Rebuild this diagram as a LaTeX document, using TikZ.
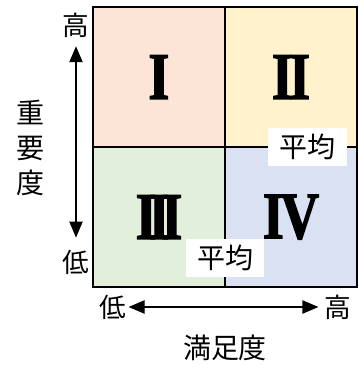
\documentclass[tikz,border=0pt]{standalone}
\usepackage{fontspec}
\setmainfont{Noto Sans CJK JP}
\font\numfontraw="Liberation Serif Bold:extend=0.8;embolden=2" at 50pt
\usepackage{tikz}
\usetikzlibrary{positioning, arrows.meta}
\definecolor{qpink}{HTML}{FCE4D6}
\definecolor{qyellow}{HTML}{FFF2CC}
\definecolor{qgreen}{HTML}{E2EFDA}
\definecolor{qblue}{HTML}{D9E1F2}
\newcommand{\numeral}[1]{\raisebox{-2.25pt}{\numfontraw #1}}
\newcommand{\romanI}{\numeral{I}}
\newcommand{\romanII}{\numeral{I\kern-.05em I}}
\newcommand{\romanIII}{\numeral{I\kern-.12em I\kern-.12em I}}
\newcommand{\romanIV}{\numeral{I\kern-.05em V}}

\begin{document}
\begin{tikzpicture}[x=0.75pt, y=-0.75pt,
    quad/.style={draw, line width=1.1pt, outer sep=0pt, inner sep=0pt,
      minimum width=99pt, minimum height=105pt},
    avg/.style={fill=white, inner sep=0pt, minimum width=59pt,
      minimum height=28.5pt, font=\fontsize{21pt}{24pt}\selectfont},
    axlabel/.style={inner sep=1.5pt, font=\fontsize{20pt}{22pt}\selectfont},
    axtitle/.style={inner sep=0pt, align=center,
      font=\fontsize{21pt}{26.25pt}\selectfont},
    axarrow/.style={line width=0.9pt,
      {Triangle[length=12pt, width=10pt]}-{Triangle[length=12pt, width=10pt]}}]
  \useasboundingbox (0,0) rectangle (358,365);

  % quadrants
  \node[quad, fill=qpink] (q1) at (159,77) {\romanI};
  \node[quad, fill=qyellow, right=0pt of q1] (q2) {\romanII};
  \node[quad, fill=qgreen, below=0pt of q1] (q3) {\romanIII};
  \node[quad, fill=qblue, right=0pt of q3] (q4) {\romanIV};
  \draw[line width=1.5pt] (q1.north west) rectangle (q4.south east);

  % averages
  \node[avg, left=7.5pt of q2.south east] (avgx) {平均};
  \node[avg, above=7.5pt of q3.south east] (avgy) {平均};

  % importance axis
  \node[axlabel] (vhigh) at (76,25) {高};
  \node[axlabel] (vlow) at (76,262) {低};
  \draw[axarrow, shorten <=5pt, shorten >=7.5pt] (vhigh) -- (vlow);
  \node[axtitle] (ytitle) at (30.5,147.5) {重\\要\\度};

  % satisfaction axis
  \node[axlabel] (hlow) at (113,307) {低};
  \node[axlabel] (hhigh) at (338,307) {高};
  \draw[axarrow, shorten >=3pt] (hlow) -- (hhigh);
  \node[axtitle] (xtitle) at (225,348) {満足度};
\end{tikzpicture}
\end{document}
